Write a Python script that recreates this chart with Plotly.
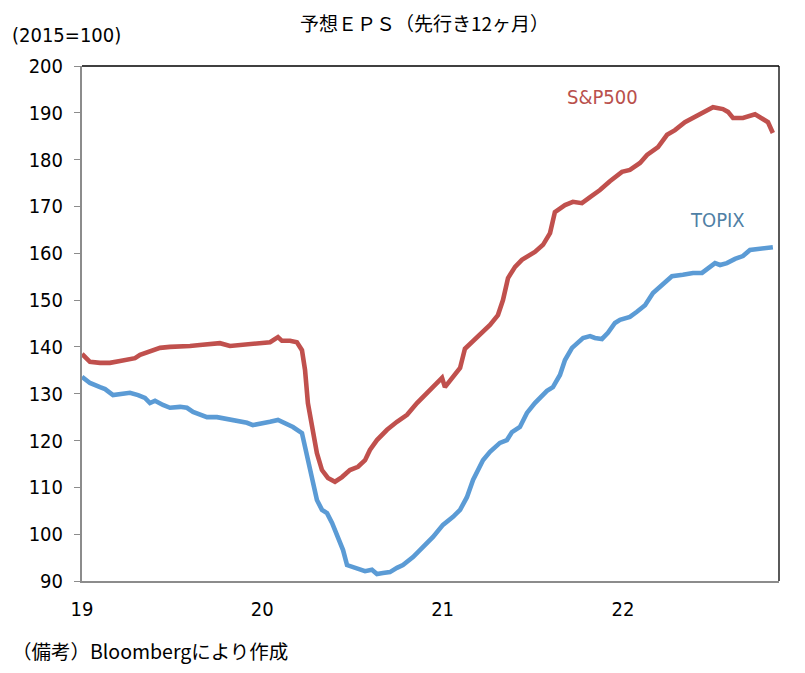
import plotly.graph_objects as go

# S&P500 forward EPS index (2015=100), x in decimal years (19 = Jan 2019)
sp_x = [19.000, 19.044, 19.100, 19.155, 19.211, 19.266, 19.294, 19.322, 19.377, 19.433,
        19.488, 19.544, 19.599, 19.654, 19.710, 19.765, 19.821, 19.876, 19.932, 19.987,
        20.043, 20.087, 20.109, 20.154, 20.192, 20.220, 20.237, 20.253, 20.281, 20.303,
        20.331, 20.364, 20.403, 20.442, 20.486, 20.531, 20.570, 20.597, 20.636, 20.692,
        20.747, 20.803, 20.858, 20.913, 20.969, 20.997, 21.013, 21.058, 21.097, 21.124,
        21.191, 21.263, 21.307, 21.335, 21.363, 21.402, 21.440, 21.512, 21.557, 21.596,
        21.623, 21.679, 21.723, 21.773, 21.818, 21.873, 21.928, 21.995, 22.039, 22.095,
        22.134, 22.195, 22.245, 22.289, 22.344, 22.389, 22.444, 22.500, 22.555, 22.583,
        22.611, 22.666, 22.733, 22.771, 22.805, 22.832]
sp_v = [138.5, 136.8, 136.6, 136.6, 137.0, 137.4, 137.6, 138.3, 139.1, 139.8,
        140.0, 140.0, 140.2, 140.4, 140.6, 140.8, 140.2, 140.4, 140.4, 140.8,
        141.0, 142.1, 141.3, 141.3, 141.0, 139.3, 135.1, 128.0, 122.3, 117.3,
        113.7, 112.0, 111.2, 112.2, 113.7, 114.4, 115.8, 118.0, 120.1, 122.3,
        124.0, 125.5, 128.0, 130.2, 132.3, 133.4, 131.4, 133.6, 135.5, 139.6,
        142.1, 144.7, 146.8, 150.0, 154.7, 157.1, 158.6, 160.3, 161.8, 164.3,
        168.8, 170.3, 171.0, 170.7, 172.0, 173.5, 175.4, 177.4, 177.8, 179.3,
        181.0, 182.7, 185.3, 186.3, 188.0, 188.9, 190.0, 191.2, 190.8, 190.2,
        188.9, 188.9, 189.7, 188.9, 188.0, 185.7]

# TOPIX forward EPS index (2015=100)
tp_x = [19.000, 19.044, 19.100, 19.128, 19.172, 19.227, 19.266, 19.311, 19.349, 19.377,
        19.405, 19.449, 19.488, 19.544, 19.582, 19.616, 19.654, 19.693, 19.749, 19.804,
        19.860, 19.915, 19.948, 19.998, 20.043, 20.087, 20.126, 20.170, 20.220, 20.226,
        20.253, 20.281, 20.303, 20.331, 20.359, 20.387, 20.420, 20.448, 20.470, 20.498,
        20.531, 20.570, 20.608, 20.636, 20.669, 20.708, 20.747, 20.780, 20.836, 20.891,
        20.947, 21.002, 21.058, 21.097, 21.135, 21.169, 21.224, 21.263, 21.318, 21.357,
        21.385, 21.429, 21.468, 21.512, 21.579, 21.612, 21.651, 21.679, 21.718, 21.779,
        21.818, 21.845, 21.884, 21.917, 21.956, 21.984, 22.039, 22.078, 22.123, 22.167,
        22.217, 22.272, 22.333, 22.389, 22.439, 22.466, 22.511, 22.539, 22.577, 22.622,
        22.666, 22.705, 22.744, 22.799, 22.832]
tp_v = [133.6, 132.3, 131.4, 131.0, 129.7, 129.9, 130.2, 129.7, 129.1, 128.0,
        128.5, 127.6, 127.0, 127.2, 127.0, 126.1, 125.5, 125.0, 125.0, 124.6,
        124.2, 123.8, 123.3, 123.8, 124.0, 124.4, 123.8, 122.9, 121.6, 120.6,
        116.5, 110.9, 107.3, 105.2, 104.5, 102.4, 99.4, 96.6, 93.4, 93.0,
        92.4, 92.1, 92.4, 91.5, 91.7, 91.9, 92.8, 93.4, 95.1, 97.3,
        99.4, 102.0, 103.7, 105.2, 107.9, 111.6, 115.8, 117.6, 119.5, 120.1,
        121.8, 122.9, 125.9, 128.0, 130.6, 131.4, 134.0, 137.2, 139.8, 141.9,
        142.3, 141.9, 141.7, 143.0, 145.1, 145.8, 146.4, 147.5, 148.9, 151.5,
        153.2, 155.1, 155.4, 155.8, 155.8, 156.6, 157.9, 157.5, 157.9, 158.8,
        159.4, 160.7, 160.9, 161.1, 161.3]

x_ticks = [19, 20, 21, 22]
x_tick_labels = ["19", "20", "21", "22"]
y_ticks = [90, 100, 110, 120, 130, 140, 150, 160, 170, 180, 190, 200]

RED = "#C0504D"
BLUE = "#5B9BD5"
JP = "Noto Sans CJK JP"
NUM = "DejaVu Sans Condensed, Roboto Condensed, Liberation Sans Narrow, Noto Sans"

fig = go.Figure()
fig.add_trace(go.Scatter(x=sp_x, y=sp_v, mode="lines", name="S&P500",
                         line=dict(color=RED, width=4.6), hoverinfo="skip"))
fig.add_trace(go.Scatter(x=tp_x, y=tp_v, mode="lines", name="TOPIX",
                         line=dict(color=BLUE, width=4.6), hoverinfo="skip"))

fig.update_layout(
    width=797, height=665,
    margin=dict(l=74, r=26, t=58, b=92),
    paper_bgcolor="white", plot_bgcolor="white",
    showlegend=False,
    xaxis=dict(range=[19, 22.866], tickvals=x_ticks, ticktext=x_tick_labels,
               showgrid=False, zeroline=False, showline=True, linecolor="#8c8c8c",
               linewidth=2, ticks="", ticklabelstandoff=9,
               tickfont=dict(family=NUM, size=20, color="#000")),
    yaxis=dict(range=[90, 200], tickvals=y_ticks, showgrid=False, zeroline=False,
               showline=True, linecolor="#8c8c8c", linewidth=2,
               ticks="outside", ticklen=6, tickcolor="#8c8c8c", tickwidth=1,
               ticklabelstandoff=7,
               tickfont=dict(family=NUM, size=20, color="#000")),
    shapes=[
        dict(type="line", xref="paper", yref="paper", x0=0, x1=1, y0=1, y1=1,
             line=dict(color="black", width=1.3)),
        dict(type="line", xref="paper", yref="paper", x0=1, x1=1, y0=0, y1=1,
             line=dict(color="black", width=1.3)),
    ],
    annotations=[
        dict(text="予想ＥＰＳ（先行き12ヶ月）", xref="paper", yref="paper",
             x=0.492, y=1.085, xanchor="center", yanchor="middle", showarrow=False,
             font=dict(family=JP, size=19, color="#000")),
        dict(text="(2015=100)", xref="paper", yref="paper", x=-0.104, y=1.060,
             xanchor="left", yanchor="middle", showarrow=False,
             font=dict(family=NUM, size=20, color="#000")),
        dict(text="S&amp;P500", x=21.885, y=193.4, xanchor="center", yanchor="middle",
             showarrow=False, font=dict(family=NUM, size=20, color="#B9504C")),
        dict(text="TOPIX", x=22.527, y=167.1, xanchor="center", yanchor="middle",
             showarrow=False, font=dict(family=NUM, size=20, color="#4F7FA5")),
        dict(text="（備考）Bloombergにより作成", xref="paper", yref="paper",
             x=-0.103, y=-0.134, xanchor="left", yanchor="middle", showarrow=False,
             font=dict(family=JP, size=19.5, color="#000")),
    ],
)

fig.write_html("out.html")
